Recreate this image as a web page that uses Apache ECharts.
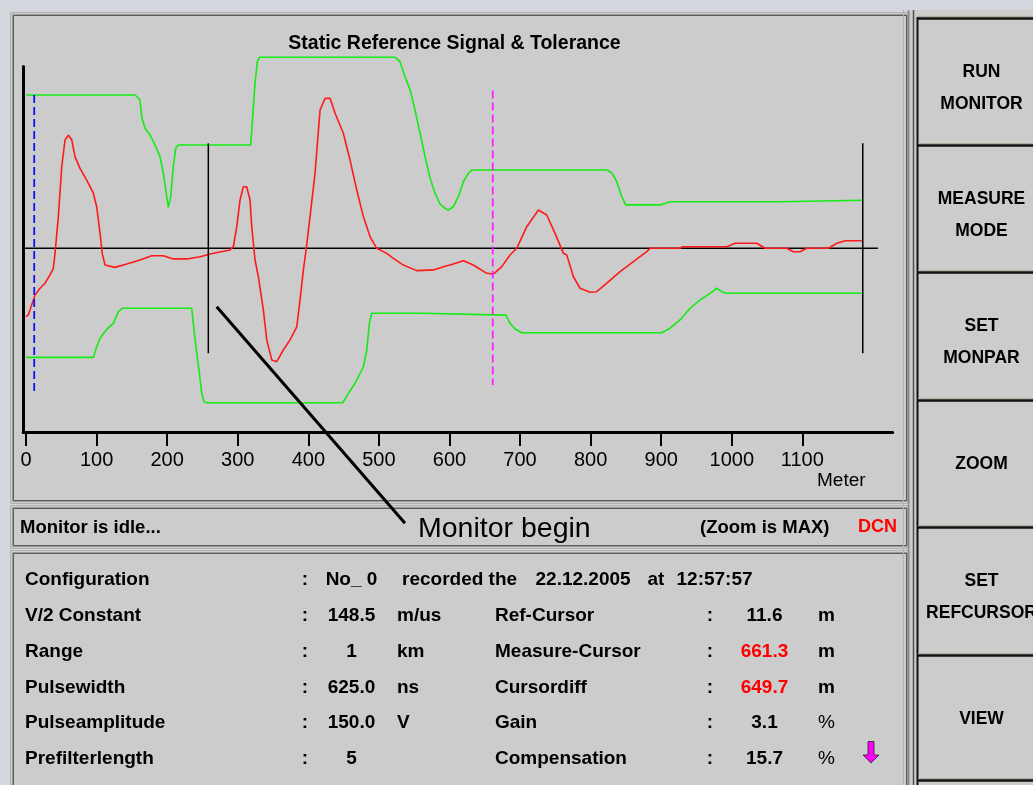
<!DOCTYPE html>
<html>
<head>
<meta charset="utf-8">
<script src="https://cdn.jsdelivr.net/npm/echarts@6/dist/echarts.min.js"></script>
<style>
html,body{margin:0;padding:0;background:#d4d7de;}
#chart{width:1033px;height:785px;}
</style>
</head>
<body>
<div id="chart"></div>
<script>
// ---------- data (meters, amplitude units) ----------
const xTickValues = [0,100,200,300,400,500,600,700,800,900,1000,1100];
const xRange = [-4, 1228];
const yRange = [-102, 101];

const signal = [
 [0,-38],[3.3,-37],[8,-31.5],[12.8,-26],[19.8,-22.2],[26.9,-19.4],[34,-14.8],[38.7,-11.1],[41.1,-2.8],
 [45.8,17.6],[50.6,45.3],[55.3,60.2],[60,62.9],[64.8,60.2],[69.4,50.9],[76.5,44.4],[86,37.9],[95.4,30.6],
 [100.1,23.1],[104.9,8.3],[108,-3],[112,-9.3],[126.1,-10.6],[142.7,-8.7],[161.5,-6.5],[178.1,-4.1],
 [194.6,-4.1],[208.7,-5.9],[227.7,-5.9],[246.6,-4.7],[265.4,-2.8],[289.1,-0.9],[293.8,0.9],[298.6,12],
 [303.2,26.8],[307.9,34.2],[312.7,34.2],[317.4,26.8],[319.8,12],[324.5,-6.5],[329.2,-15.8],[336.3,-34.3],
 [341.1,-50.9],[348.2,-62],[355.2,-63],[364.6,-56.5],[374.1,-50.9],[383.6,-43.6],[388.3,-28.7],[393,-12],
 [396.8,-0.9],[402.4,17.6],[409.5,41.7],[416.6,76.8],[423.7,83.3],[430.8,83.3],[437.9,75],[449.6,63.9],
 [459.1,49],[468.6,32.4],[478,17.6],[487.5,6.4],[497,0],[511.1,-2.8],[520.5,-5.6],[534.6,-9.3],
 [553.6,-12.4],[577.2,-12],[596.1,-9.7],[600.8,-9.3],[619.7,-6.9],[633.8,-9.3],[652.8,-13.9],[662.2,-14.3],
 [674.1,-10.2],[685.8,-3.7],[695.3,0],[709.5,12],[726,21.3],[737.8,18.5],[749.6,8.3],[761.4,-2.8],
 [766.2,-3.7],[775.6,-15.8],[785,-22.2],[799.2,-24.4],[808.7,-24.1],[822.9,-19.4],[841.7,-13],[860.6,-7.4],
 [879.5,-1.9],[884.2,0],[926.7,0],[930,0.9],[992.9,0.9],[1004.7,2.8],[1035.4,2.8],[1047.2,0],[1077.9,0],
 [1087.3,-1.9],[1096.8,-1.9],[1106.2,0],[1136.9,0],[1148.8,2.8],[1160.6,4.2],[1184.2,4.2]
];

const upperTolerance = [
 [0,85.2],[154.5,85.2],[161.5,82.4],[163.9,73.1],[168.6,66.7],[175.7,62.9],[182.8,57.4],[189.9,50.9],
 [194.6,41.7],[199.4,28.7],[201.6,22.8],[205,28.7],[208.7,45.3],[212.1,55.6],[215.8,57.4],[318.4,57.4],
 [322.1,78.7],[324.5,91.7],[327.8,103.7],[330.6,106.1],[523,106.1],[529.9,103.7],[537,95.3],[544.2,88],
 [551.2,76.8],[558.3,63.9],[565.4,50.9],[572.5,38.9],[579.6,30.6],[586.6,24.6],[593.7,22.2],[598.4,21.3],
 [605.5,23.1],[612.6,28.7],[619.7,37],[626.8,41.7],[631.6,43.5],[822.9,43.5],[830,42],[837,37],
 [844.1,28.7],[849.8,24.1],[898.4,24.1],[912.6,25.9],[1068.4,25.9],[1069.4,26.7],[1185.6,26.7]
];

const lowerTolerance = [
 [0,-60.6],[95.4,-60.6],[100.1,-54.7],[104.9,-50],[114.3,-45],[123.7,-41.7],[130.8,-35.2],[137,-33.3],
 [234.8,-33.3],[238.5,-47.2],[241.9,-58.3],[245.6,-69.4],[249,-80.6],[252.2,-85.2],[256,-85.8],[448.8,-85.8],
 [456.7,-80.6],[466.2,-75],[478,-65.8],[482.8,-56.5],[486.5,-41.7],[489.8,-36.1],[560.7,-36.1],[562,-37.1],
 [680.2,-37.1],[685.8,-41.7],[693,-44.8],[702.4,-46.9],[900.8,-46.9],[912.6,-44.4],[926.7,-39.8],
 [940.9,-33.3],[955,-28.7],[969.2,-25],[978.7,-22.2],[985.8,-24.1],[991.9,-25],[1185.6,-25]
];

const zeroLine = [[-4,0],[1207,0]];
const refCursor = [[11.6,85.2],[11.6,-79.7]];
const measureCursor = [[661.3,87.6],[661.3,-75.9]];
const monitorBeginLine = [[258.3,58.3],[258.3,-58.3]];
const monitorEndLine = [[1185.6,58.3],[1185.6,-58.3]];

// ---------- texts ----------
const chartTitle = 'Static Reference Signal & Tolerance';
const axisName = 'Meter';
const annotationText = 'Monitor begin';
const statusLeft = 'Monitor is idle...';
const statusZoom = '(Zoom is MAX)';
const statusMode = 'DCN';
const leftLabels = ['Configuration','V/2 Constant','Range','Pulsewidth','Pulseamplitude','Prefilterlength'];
const leftValues = ['No_ 0','148.5','1','625.0','150.0','5'];
const leftUnits  = ['','m/us','km','ns','V',''];
const recordedParts = ['recorded the','22.12.2005','at','12:57:57'];
const rightLabels = ['','Ref-Cursor','Measure-Cursor','Cursordiff','Gain','Compensation'];
const rightValues = ['','11.6','661.3','649.7','3.1','15.7'];
const rightUnits  = ['','m','m','m','%','%'];
const rightHighlight = [false,false,true,true,false,false];
const buttonLabels = [['RUN','MONITOR'],['MEASURE','MODE'],['SET','MONPAR'],['ZOOM'],['SET','REFCURSOR'],['VIEW']];

// ---------- layout helpers ----------
const FONT = '"Liberation Sans", Arial, sans-serif';
const g = [];
function txt(text, x, y, opt) {
  opt = opt || {};
  g.push({
    type: 'text', x: x, y: y, z: 100, silent: true,
    style: {
      text: text,
      font: (opt.weight || 'bold') + ' ' + (opt.size || 19) + 'px ' + FONT,
      fill: opt.color || '#000',
      align: opt.align || 'left', textAlign: opt.align || 'left',
      verticalAlign: 'middle', textVerticalAlign: 'middle'
    }
  });
}
function panel(x1, y1, x2, y2) {
  g.push({type:'rect', z:-10, silent:true, shape:{x:x1+0.5,y:y1+0.5,width:x2-x1,height:y2-y1},
          style:{fill:'#cccccc', stroke:'#b2b2b2', lineWidth:1}});
  g.push({type:'rect', z:-9, silent:true, shape:{x:x1+2.5,y:y1+2.5,width:x2-x1-4,height:y2-y1-4},
          style:{fill:null, stroke:'#9a9a9a', lineWidth:1}});
  g.push({type:'rect', z:-9, silent:true, shape:{x:x1+3.5,y:y1+3.5,width:x2-x1-6,height:y2-y1-6},
          style:{fill:null, stroke:'#5c5c5c', lineWidth:1}});
}

// panels
panel(10, 12, 909, 503);
panel(10, 505, 909, 548);
panel(10, 550, 909, 800);

// right column dividers
g.push({type:'rect', z:-10, silent:true, shape:{x:910,y:0,width:130,height:785}, style:{fill:'#cccccc'}});
g.push({type:'line', z:-9, silent:true, shape:{x1:903.5,y1:10,x2:903.5,y2:785}, style:{stroke:'#b2b2b2',lineWidth:1}});
g.push({type:'line', z:-9, silent:true, shape:{x1:908.5,y1:10,x2:908.5,y2:785}, style:{stroke:'#8a8a8a',lineWidth:1.5}});
g.push({type:'line', z:-9, silent:true, shape:{x1:913.5,y1:10,x2:913.5,y2:785}, style:{stroke:'#505050',lineWidth:1.5}});
g.push({type:'line', z:-9, silent:true, shape:{x1:917.5,y1:17,x2:917.5,y2:785}, style:{stroke:'#111',lineWidth:2}});
g.push({type:'rect', z:-10, silent:true, shape:{x:0,y:0,width:1033,height:10}, style:{fill:'#d4d7de'}});

// buttons
const buttonTops = [18,145,272,400,527,655];
buttonTops.forEach(function(t, i) {
  g.push({type:'line', z:-8, silent:true, shape:{x1:918,y1:t-1.5,x2:1040,y2:t-1.5}, style:{stroke:'#b4ab9c',lineWidth:1}});
  g.push({type:'line', z:-8, silent:true, shape:{x1:918,y1:t+0.5,x2:1040,y2:t+0.5}, style:{stroke:'#111',lineWidth:2.5}});
  const lab = buttonLabels[i];
  if (lab.length === 2) {
    txt(lab[0], 981.5, t + 54, {size:17.5, align:'center'});
    txt(lab[1], 981.5, t + 86, {size:17.5, align:'center'});
  } else {
    txt(lab[0], 981.5, t + 64, {size:17.5, align:'center'});
  }
});
g.push({type:'line', z:-8, silent:true, shape:{x1:918,y1:778.5,x2:1040,y2:778.5}, style:{stroke:'#b4ab9c',lineWidth:1}});
g.push({type:'line', z:-8, silent:true, shape:{x1:918,y1:780.5,x2:1040,y2:780.5}, style:{stroke:'#111',lineWidth:2.5}});

// status bar
txt(statusLeft, 20, 527.5, {size:18.5});
txt(statusZoom, 700, 527.5, {size:18.5});
txt(statusMode, 858, 527.5, {size:18, color:'#ff0000'});

// info table
const rowY = [579.5, 615.5, 651.5, 687.5, 723, 759];
rowY.forEach(function(y, i) {
  txt(leftLabels[i], 25, y);
  txt(':', 305, y, {align:'center'});
  txt(leftValues[i], 351.5, y, {align:'center'});
  if (leftUnits[i]) txt(leftUnits[i], 397, y);
  if (rightLabels[i]) {
    txt(rightLabels[i], 495, y);
    txt(':', 710, y, {align:'center'});
    txt(rightValues[i], 764.5, y, {align:'center', color: rightHighlight[i] ? '#ff0000' : '#000'});
    txt(rightUnits[i], 818, y, {weight: rightUnits[i] === '%' ? 'normal' : 'bold'});
  }
});
txt(recordedParts[0], 402, rowY[0]);
txt(recordedParts[1], 535.5, rowY[0]);
txt(recordedParts[2], 647.5, rowY[0]);
txt(recordedParts[3], 676.5, rowY[0]);

// magenta arrow
g.push({type:'polygon', z:100, silent:true,
  shape:{points:[[868,741.5],[874,741.5],[874,755],[879,755],[871,763],[863,755],[868,755]]},
  style:{fill:'#ff00ff', stroke:'#222', lineWidth:0.8}});

// axis name and annotation
txt(axisName, 817, 481, {weight:'normal', size:19});
g.push({type:'line', z:100, silent:true, shape:{x1:216.7,y1:306.7,x2:405,y2:523.3}, style:{stroke:'#000',lineWidth:3}});
txt(annotationText, 418, 529.5, {weight:'normal', size:28.5});

// ---------- chart ----------
const chart = echarts.init(document.getElementById('chart'), null, {renderer:'canvas'});
function seg(data, color, width, dash, z) {
  return {
    type:'line', data:data, showSymbol:false, symbol:'none', silent:true, z:z || 2, clip:false,
    lineStyle:{color:color, width:width, type: dash || 'solid'},
    emphasis:{disabled:true}
  };
}
chart.setOption({
  animation:false,
  backgroundColor:'#d4d7de',
  title:{
    text: chartTitle, left: 454.5, top: 34, textAlign:'center', padding:0,
    textStyle:{fontFamily:FONT, fontWeight:'bold', fontSize:19.5, color:'#000'}
  },
  grid:{left:23.2, top:66.5, width:869.5, height:365.4, containLabel:false, outerBoundsMode:'none'},
  xAxis:{
    type:'value', min:xRange[0], max:xRange[1],
    axisLine:{show:true, onZero:false, lineStyle:{color:'#000', width:3}},
    axisTick:{show:true, inside:false, length:14, customValues:xTickValues, lineStyle:{color:'#000', width:2}},
    axisLabel:{show:true, customValues:xTickValues, margin:19, color:'#000', fontSize:20, fontFamily:FONT,
               formatter:function(v){ return String(v); }},
    splitLine:{show:false}
  },
  yAxis:{
    type:'value', min:yRange[0], max:yRange[1],
    axisLine:{show:true, onZero:false, lineStyle:{color:'#000', width:3}},
    axisTick:{show:false}, axisLabel:{show:false}, splitLine:{show:false}
  },
  series:[
    seg(upperTolerance, '#14ec14', 1.6, null, 3),
    seg(lowerTolerance, '#14ec14', 1.6, null, 3),
    seg(zeroLine, '#000', 1.5, null, 3),
    seg(signal, '#ff1a1a', 1.6, null, 4),
    seg(monitorBeginLine, '#000', 1.5, null, 5),
    seg(monitorEndLine, '#000', 1.5, null, 5),
    seg(refCursor, '#1010ff', 1.8, [8,4], 6),
    seg(measureCursor, '#ff20ff', 1.8, [8,4], 6)
  ],
  graphic:{elements:g}
});
</script>
</body>
</html>
